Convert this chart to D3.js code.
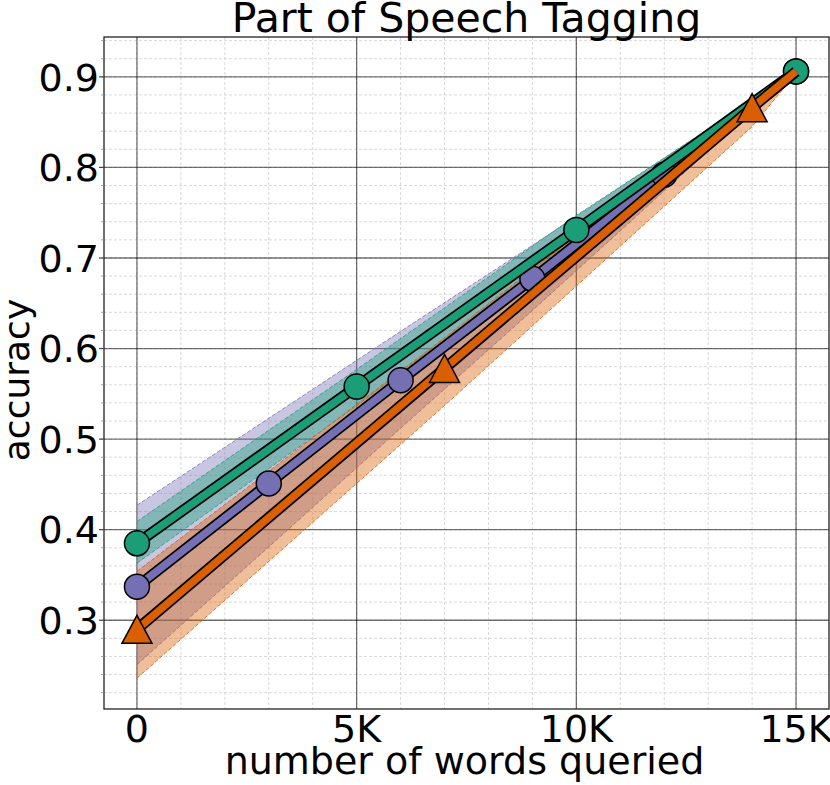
<!DOCTYPE html>
<html><head><meta charset="utf-8">
<script src="https://cdn.jsdelivr.net/npm/d3@7"></script>
<style>body{margin:0;background:#fff;} svg{display:block;font-family:"DejaVu Sans",sans-serif;}</style>
</head><body>
<svg id="c" width="830" height="785"></svg>
<script>
// ---- data ----
const xTicks = [0, 5000, 10000, 15000];
const xTickLabels = ["0", "5K", "10K", "15K"];
const yTicks = [0.3, 0.4, 0.5, 0.6, 0.7, 0.8, 0.9];
const yTickLabels = ["0.3", "0.4", "0.5", "0.6", "0.7", "0.8", "0.9"];

const purpleX = [0, 3000, 6000, 9000, 12000, 15000];
const purpleY = [0.337, 0.451, 0.565, 0.677, 0.792, 0.906];
const purpleLo = [0.251, 0.381, 0.512, 0.642, 0.774, 0.906];
const purpleHi = [0.427, 0.523, 0.619, 0.714, 0.810, 0.906];

const greenX = [0, 5000, 10000, 15000];
const greenY = [0.385, 0.558, 0.731, 0.906];
const greenLo = [0.363, 0.537, 0.718, 0.906];
const greenHi = [0.409, 0.577, 0.747, 0.906];

const orangeX = [0, 7000, 14000, 15000];
const orangeY = [0.290, 0.578, 0.866, 0.906];
const orangeLo = [0.236, 0.537, 0.845, 0.904];
const orangeHi = [0.354, 0.612, 0.875, 0.908];
const orangeMarked = [true, true, true, false];

// ---- layout ----
const svg = d3.select("#c");
const L = 104, R = 829, T = 37, B = 709;
const x = d3.scaleLinear().domain([-750, 15750]).range([L, R]);
const y = d3.scaleLinear().domain([0.202, 0.944]).range([B, T]);

const series = [
  {X: purpleX, Y: purpleY, lo: purpleLo, hi: purpleHi, color: "#7570b3", shape: "circle", marked: purpleX.map(() => true)},
  {X: greenX, Y: greenY, lo: greenLo, hi: greenHi, color: "#1b9e77", shape: "circle", marked: greenX.map(() => true)},
  {X: orangeX, Y: orangeY, lo: orangeLo, hi: orangeHi, color: "#d95f02", shape: "triangle", marked: orangeMarked}
];

svg.append("defs").append("clipPath").attr("id", "clip")
  .append("rect").attr("x", L).attr("y", T).attr("width", R - L).attr("height", B - T);

// minor grid
const gGrid = svg.append("g");
const xMinor = d3.range(0, 15001, 1000);
const yMinor = d3.range(0.22, 0.941, 0.02);
gGrid.selectAll(".vx").data(xMinor).join("line")
  .attr("x1", d => x(d)).attr("x2", d => x(d)).attr("y1", T).attr("y2", B)
  .attr("stroke", "#cfcfcf").attr("stroke-width", 0.8).attr("stroke-dasharray", "3,2");
gGrid.selectAll(".hy").data(yMinor).join("line")
  .attr("y1", d => y(d)).attr("y2", d => y(d)).attr("x1", L).attr("x2", R)
  .attr("stroke", "#cfcfcf").attr("stroke-width", 0.8).attr("stroke-dasharray", "3,2");
// major grid
gGrid.selectAll(".mx").data(xTicks).join("line")
  .attr("x1", d => x(d)).attr("x2", d => x(d)).attr("y1", T).attr("y2", B)
  .attr("stroke", "#000").attr("stroke-opacity", 0.55).attr("stroke-width", 1.3);
gGrid.selectAll(".my").data(yTicks).join("line")
  .attr("y1", d => y(d)).attr("y2", d => y(d)).attr("x1", L).attr("x2", R)
  .attr("stroke", "#000").attr("stroke-opacity", 0.55).attr("stroke-width", 1.3);

const plot = svg.append("g").attr("clip-path", "url(#clip)");

// bands
series.forEach(s => {
  const pts = s.X.map((v, i) => ({x: v, lo: s.lo[i], hi: s.hi[i]}));
  plot.append("path").datum(pts)
    .attr("d", d3.area().x(d => x(d.x)).y0(d => y(d.lo)).y1(d => y(d.hi)))
    .attr("fill", s.color).attr("fill-opacity", 0.4);
  ["lo", "hi"].forEach(k => {
    plot.append("path").datum(pts)
      .attr("d", d3.line().x(d => x(d.x)).y(d => y(d[k])))
      .attr("fill", "none").attr("stroke", s.color).attr("stroke-opacity", 0.8)
      .attr("stroke-width", 1).attr("stroke-dasharray", "4,2");
  });
});

// lines + markers
series.forEach(s => {
  const pts = s.X.map((v, i) => ({x: v, y: s.Y[i], m: s.marked[i]}));
  const ln = d3.line().x(d => x(d.x)).y(d => y(d.y));
  plot.append("path").datum(pts).attr("d", ln).attr("fill", "none")
    .attr("stroke", "#000").attr("stroke-width", 11).attr("stroke-linejoin", "round");
  plot.append("path").datum(pts).attr("d", ln).attr("fill", "none")
    .attr("stroke", s.color).attr("stroke-width", 7.5).attr("stroke-linejoin", "round");
  const mk = pts.filter(d => d.m);
  if (s.shape === "circle") {
    plot.selectAll(null).data(mk).join("circle")
      .attr("cx", d => x(d.x)).attr("cy", d => y(d.y)).attr("r", 12.5)
      .attr("fill", s.color).attr("stroke", "#000").attr("stroke-width", 1.5);
  } else {
    plot.selectAll(null).data(mk).join("path")
      .attr("d", d => {
        const cx = x(d.x), cy = y(d.y), w = 15, h = 14;
        return `M${cx},${cy - h}L${cx + w},${cy + h}L${cx - w},${cy + h}Z`;
      })
      .attr("fill", s.color).attr("stroke", "#000").attr("stroke-width", 1.5);
  }
});

// spines
svg.append("rect").attr("x", L).attr("y", T).attr("width", R - L).attr("height", B - T)
  .attr("fill", "none").attr("stroke", "#222").attr("stroke-width", 1.3);

// left ticks
svg.selectAll(".ytm").data(yMinor).join("line")
  .attr("x1", L - 3).attr("x2", L).attr("y1", d => y(d)).attr("y2", d => y(d))
  .attr("stroke", "#888").attr("stroke-width", 0.8);
svg.selectAll(".ytM").data(yTicks).join("line")
  .attr("x1", L - 5).attr("x2", L).attr("y1", d => y(d)).attr("y2", d => y(d))
  .attr("stroke", "#444").attr("stroke-width", 1.2);

// tick labels
svg.selectAll(".yl").data(yTicks).join("text")
  .attr("x", L - 5).attr("y", d => y(d)).attr("dy", "0.36em")
  .attr("text-anchor", "end").attr("font-size", 38).attr("fill", "#000")
  .text((d, i) => yTickLabels[i]);
svg.selectAll(".xl").data(xTicks).join("text")
  .attr("x", d => x(d)).attr("y", B + 33)
  .attr("text-anchor", "middle").attr("font-size", 38).attr("fill", "#000")
  .text((d, i) => xTickLabels[i]);

// axis labels + title
svg.append("text").attr("x", (L + R) / 2 - 2).attr("y", 774).attr("text-anchor", "middle")
  .attr("font-size", 38).text("number of words queried");
svg.append("text").attr("transform", `translate(29,${(T + B) / 2 + 7}) rotate(-90)`)
  .attr("text-anchor", "middle").attr("font-size", 36).text("accuracy");
svg.append("text").attr("x", (L + R) / 2).attr("y", 32).attr("text-anchor", "middle")
  .attr("font-size", 41).text("Part of Speech Tagging");
</script>
</body></html>
